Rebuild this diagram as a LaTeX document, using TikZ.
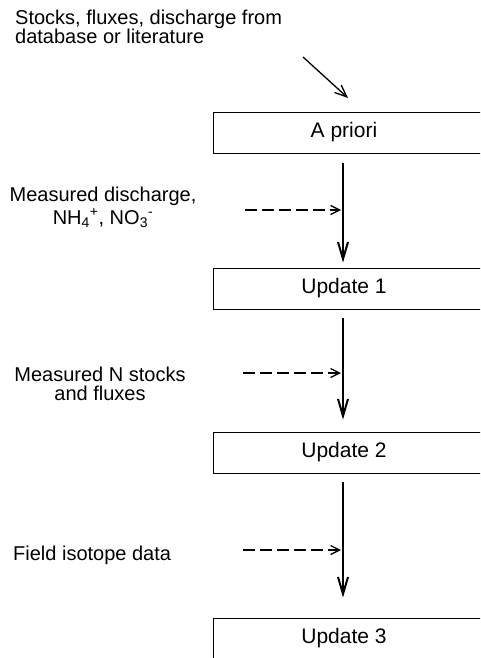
\documentclass[tikz,border=0pt]{standalone}
\usepackage{fontspec}
\setmainfont{Liberation Sans}
\usetikzlibrary{arrows.meta}
\begin{document}
\begin{tikzpicture}[x=1pt,y=-1pt,
  every node/.style={font=\fontsize{20}{17}\selectfont, inner sep=0pt},
  stage/.style={draw, line width=0.9pt, minimum width=268pt, minimum height=41pt, font=\fontsize{21}{21}\selectfont},
  flow/.style={line width=2.2pt, -{Straight Barb[length=17pt,width=10pt,line width=2pt]}},
  feed/.style={line width=1.3pt, dash pattern=on 12pt off 5pt, -{Straight Barb[length=9pt,width=9pt,line width=1.3pt]}},
  source/.style={line width=1.3pt, -{Straight Barb[length=12pt,width=10pt,line width=1.3pt]}},
  lbl/.style={align=center, font=\fontsize{20}{19}\selectfont}
]
\useasboundingbox (0,0) rectangle (480,658);
\clip (0,0) rectangle (480,658);
\fill[white] (0,0) rectangle (480,658);

\coordinate (spine) at (343,0);

\node[anchor=west, align=left] (src) at (15,27) {Stocks, fluxes, discharge from\\database or literature};
\coordinate (srcA) at (303,57);
\coordinate (srcB) at (348,98);

\node[stage] (apriori) at (347,132.5) {A priori\hspace*{6pt}};
\node[stage] (upd1) at (347,288.5) {Update 1\hspace*{6pt}};
\node[stage] (upd2) at (347,452.5) {Update 2\hspace*{6pt}};
\node[stage] (upd3) at (347,638.5) {Update 3\hspace*{6pt}};

\node[lbl, font=\fontsize{20}{23}\selectfont] (m1) at (103,207) {Measured discharge,\\NH\textsubscript{4}\textsuperscript{+}, NO\textsubscript{3}\textsuperscript{-}};
\node[lbl] (m2) at (100,384) {Measured N stocks\\and fluxes};
\node[anchor=west] (m3) at (13,555) {Field isotope data};

\coordinate (d1) at (245,210);
\coordinate (d2) at (243,373);
\coordinate (d3) at (243,550);

\draw[source] (srcA) -- (srcB);

\draw[flow] ([yshift=-10pt]apriori.south -| spine) -- ([yshift=5pt]upd1.north -| spine);
\draw[flow] ([yshift=-9pt]upd1.south -| spine) -- ([yshift=12pt]upd2.north -| spine);
\draw[flow] ([yshift=-9pt]upd2.south -| spine) -- ([yshift=20pt]upd3.north -| spine);

\draw[feed] (d1) -- ([xshift=-2pt]d1 -| spine);
\draw[feed] (d2) -- ([xshift=-2pt]d2 -| spine);
\draw[feed] (d3) -- ([xshift=-2pt]d3 -| spine);
\end{tikzpicture}
\end{document}
